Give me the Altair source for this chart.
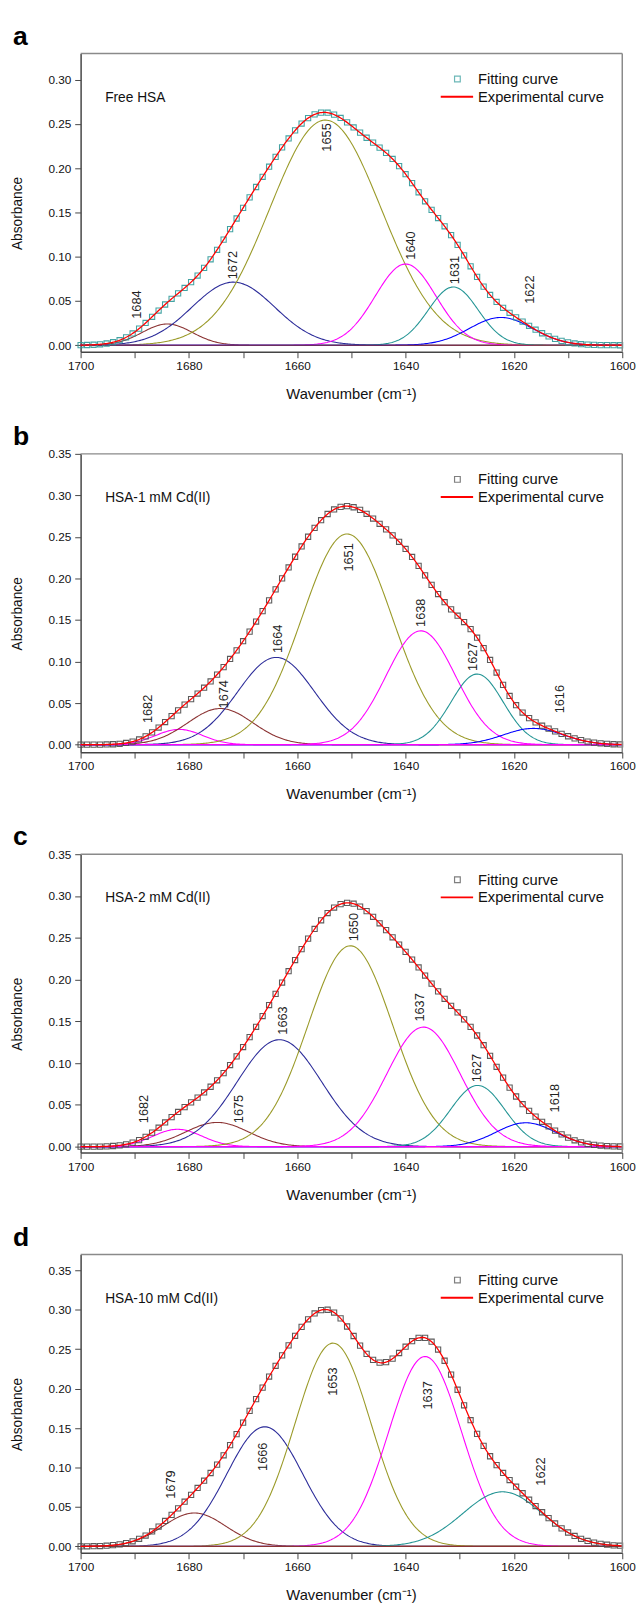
import numpy as np
import pandas as pd
import altair as alt

FONT = "Liberation Sans"

# ---------------- data ----------------
# band labels, centres (cm-1), heights (absorbance), gaussian sigmas (cm-1)
a_peaks = ["1684", "1672", "1655", "1640", "1631", "1622"]
a_center = [1684.0, 1671.8, 1654.8, 1640.0, 1631.2, 1622.4]
a_height = [0.024, 0.0713, 0.2543, 0.0917, 0.0658, 0.0314]
a_sigma = [4.6, 7.6, 10.3, 5.6, 4.6, 5.8]
a_label_x = [1689.6, 1671.8, 1654.5, 1639.0, 1630.9, 1617.1]
a_label_y = [0.046, 0.0905, 0.2347, 0.1127, 0.085, 0.0628]

b_peaks = ["1682", "1674", "1664", "1651", "1638", "1627", "1616"]
b_center = [1681.8, 1674.2, 1663.9, 1650.8, 1637.2, 1626.8, 1616.4]
b_height = [0.0184, 0.0435, 0.105, 0.2536, 0.137, 0.085, 0.0196]
b_sigma = [4.3, 6.0, 7.1, 8.3, 6.4, 4.8, 5.5]
b_label_x = [1687.5, 1673.5, 1663.6, 1650.4, 1637.2, 1627.6, 1611.5]
b_label_y = [0.0431, 0.0607, 0.1274, 0.2254, 0.1588, 0.1059, 0.0548]

c_peaks = ["1682", "1675", "1663", "1650", "1637", "1627", "1618"]
c_center = [1682.1, 1674.8, 1663.3, 1650.2, 1636.7, 1626.7, 1617.8]
c_height = [0.0208, 0.029, 0.128, 0.2404, 0.1431, 0.0733, 0.0286]
c_sigma = [4.5, 5.8, 7.8, 7.8, 6.8, 5.0, 5.5]
c_label_x = [1688.2, 1670.7, 1662.7, 1649.6, 1637.3, 1626.8, 1612.4]
c_label_y = [0.0451, 0.0451, 0.151, 0.2627, 0.1667, 0.0941, 0.058]

d_peaks = ["1679", "1666", "1653", "1637", "1622"]
d_center = [1679.0, 1666.0, 1653.4, 1636.4, 1622.1]
d_height = [0.0423, 0.1516, 0.2577, 0.2407, 0.0692]
d_sigma = [5.8, 7.0, 7.0, 6.7, 7.3]
d_label_x = [1683.3, 1666.3, 1653.3, 1635.8, 1614.9]
d_label_y = [0.0784, 0.1137, 0.209, 0.1915, 0.095]

samples = ["Free HSA", "HSA-1 mM Cd(II)", "HSA-2 mM Cd(II)", "HSA-10 mM Cd(II)"]
letters = ["a", "b", "c", "d"]
y_domains = [[-0.0074, 0.3295], [-0.009, 0.35], [-0.007, 0.35], [-0.0082, 0.37]]
y_tick_max = [0.325, 0.35, 0.35, 0.35]

# ---------------- styles ----------------
BROWN = "#8b3333"
NAVY = "#2b2b99"
OLIVE = "#9a9a28"
MAGENTA = "#ff00ff"
TEAL = "#229494"
BLUE = "#0000ff"
RED = "#ff0000"

a_colors = [BROWN, NAVY, OLIVE, MAGENTA, TEAL, BLUE]
b_colors = [MAGENTA, BROWN, NAVY, OLIVE, MAGENTA, TEAL, BLUE]
c_colors = [MAGENTA, BROWN, NAVY, OLIVE, MAGENTA, TEAL, BLUE]
d_colors = [BROWN, NAVY, OLIVE, MAGENTA, TEAL]
sq_colors = ["#2f9a9a", "#4a4a4a", "#4a4a4a", "#4a4a4a"]
base_colors = [BROWN, MAGENTA, MAGENTA, BROWN]

W, H = 552, 304
AX = "#444444"

wn_grid = np.linspace(1600, 1700, 401)
sq_grid = np.arange(1700, 1599.9, -1.2)


def gauss(x, c, h, s):
    return h * np.exp(-((x - c) ** 2) / (2 * s * s))


def panel(i, peaks, centers, heights, sigmas, colors, lab_x, lab_y):
    ids = [f"{k}_{p}" for k, p in enumerate(peaks)]
    rows = []
    for cid, c, h, s in zip(ids, centers, heights, sigmas):
        for x in wn_grid:
            rows.append({"wn": x, "ab": gauss(x, c, h, s), "comp": cid})
    comp_df = pd.DataFrame(rows)
    tot = sum(gauss(wn_grid, c, h, s) for c, h, s in zip(centers, heights, sigmas))
    exp_df = pd.DataFrame({"wn": wn_grid, "ab": tot})
    sq_tot = sum(gauss(sq_grid, c, h, s) for c, h, s in zip(centers, heights, sigmas))
    sq_df = pd.DataFrame({"wn": sq_grid, "ab": sq_tot})
    lab_df = pd.DataFrame({"wn": lab_x, "ab": lab_y, "t": peaks})

    y_vals = [round(v, 3) for v in np.arange(0, y_tick_max[i] + 1e-9, 0.025)]
    x_scale = alt.Scale(domain=[1600, 1700], reverse=True, nice=False, zero=False)
    y_scale = alt.Scale(domain=y_domains[i], nice=False, zero=False)
    x_axis = alt.Axis(
        values=list(range(1600, 1701, 10)),
        labelExpr="datum.value % 20 == 0 ? '' + datum.value : ''",
        title=None, grid=False, tickSize=6, labelPadding=3,
        domainColor=AX, tickColor=AX, domainWidth=1.5, tickWidth=1,
        labelFont=FONT, labelFontSize=12, labelColor="#111",
        labelOverlap=False, labelFlush=False,
    )
    y_axis = alt.Axis(
        values=y_vals,
        labelExpr="(round(datum.value*1000) % 50 == 0) ? format(datum.value, '.2f') : ''",
        title=None, grid=False, tickSize=6, labelPadding=4,
        domainColor=AX, tickColor=AX, domainWidth=1.5, tickWidth=1,
        labelFont=FONT, labelFontSize=12, labelColor="#111",
        labelOverlap=False, labelFlush=False,
    )
    X = alt.X("wn:Q", scale=x_scale, axis=x_axis)
    Y = alt.Y("ab:Q", scale=y_scale, axis=y_axis)

    comps = alt.Chart(comp_df).mark_line(strokeWidth=1.1).encode(
        x=X, y=Y,
        color=alt.Color("comp:N", scale=alt.Scale(domain=ids, range=colors), legend=None),
    )
    base = alt.Chart(pd.DataFrame({"ab": [0.0]})).mark_rule(
        color=base_colors[i], strokeWidth=1.2
    ).encode(y="ab:Q")
    squares = alt.Chart(sq_df).mark_point(
        shape="square", filled=False, size=28, strokeWidth=1.1, color=sq_colors[i], opacity=0.9
    ).encode(x="wn:Q", y="ab:Q")
    redline = alt.Chart(exp_df).mark_line(color=RED, strokeWidth=1.3).encode(x="wn:Q", y="ab:Q")
    labels = alt.Chart(lab_df).mark_text(
        angle=270, font=FONT, fontSize=13, color="#222", align="center", baseline="middle"
    ).encode(x="wn:Q", y="ab:Q", text="t:N")

    one = pd.DataFrame({"k": [0]})
    sample = alt.Chart(one).mark_text(
        font=FONT, fontSize=14, align="left", baseline="middle", color="#111"
    ).encode(x=alt.value(25), y=alt.value(45), text=alt.value(samples[i]))
    leg_sq = alt.Chart(one).mark_point(
        shape="square", filled=False, size=34, strokeWidth=1.2, color=sq_colors[i]
    ).encode(x=alt.value(384), y=alt.value(26))
    leg_line = alt.Chart(one).mark_rule(color=RED, strokeWidth=2).encode(
        x=alt.value(367), x2=alt.value(400), y=alt.value(44)
    )
    leg_t1 = alt.Chart(one).mark_text(
        font=FONT, fontSize=15, align="left", baseline="middle", color="#111"
    ).encode(x=alt.value(405), y=alt.value(26), text=alt.value("Fitting curve"))
    leg_t2 = alt.Chart(one).mark_text(
        font=FONT, fontSize=15, align="left", baseline="middle", color="#111"
    ).encode(x=alt.value(405), y=alt.value(44), text=alt.value("Experimental curve"))
    frame_top = alt.Chart(one).mark_rule(color="#8a8a8a", strokeWidth=1.5).encode(
        x=alt.value(0), x2=alt.value(W), y=alt.value(0)
    )
    frame_right = alt.Chart(one).mark_rule(color="#8a8a8a", strokeWidth=1.5).encode(
        x=alt.value(W), y=alt.value(0), y2=alt.value(H)
    )
    letter = alt.Chart(one).mark_text(
        font=FONT, fontSize=27, fontWeight="bold", align="left", baseline="alphabetic", color="#000"
    ).encode(x=alt.value(-69), y=alt.value(-9), text=alt.value(letters[i]))
    ytitle = alt.Chart(one).mark_text(
        font=FONT, fontSize=14, angle=270, align="center", baseline="middle", color="#111"
    ).encode(x=alt.value(-64), y=alt.value(163), text=alt.value("Absorbance"))
    xtitle = alt.Chart(one).mark_text(
        font=FONT, fontSize=15, align="center", baseline="middle", color="#111"
    ).encode(x=alt.value(W / 2), y=alt.value(H + 43), text=alt.value("Wavenumber (cm\u207b\u00b9)"))

    return alt.layer(
        comps, base, squares, redline, labels, sample, leg_sq, leg_line, leg_t1, leg_t2,
        frame_top, frame_right, letter, ytitle, xtitle,
    ).properties(width=W, height=H)


pa = panel(0, a_peaks, a_center, a_height, a_sigma, a_colors, a_label_x, a_label_y)
pb = panel(1, b_peaks, b_center, b_height, b_sigma, b_colors, b_label_x, b_label_y)
pc = panel(2, c_peaks, c_center, c_height, c_sigma, c_colors, c_label_x, c_label_y)
pd_ = panel(3, d_peaks, d_center, d_height, d_sigma, d_colors, d_label_x, d_label_y)

chart = alt.vconcat(pa, pb, pc, pd_, spacing=104, bounds="flush").properties(
    padding={"left": 3, "top": 0, "right": 0, "bottom": 0}, background="white"
).configure_view(stroke=None).resolve_scale(y="independent", x="independent", color="independent")

chart.save("out.html", embed_options={"renderer": "svg", "actions": False})
